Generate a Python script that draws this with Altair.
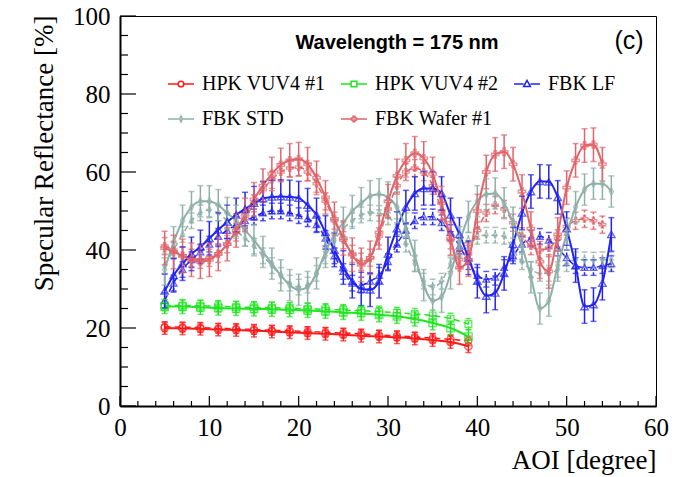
import altair as alt
import pandas as pd

SERIES = ["HPK VUV4 #1", "HPK VUV4 #2", "FBK LF", "FBK STD", "FBK Wafer #1"]
COLORS = ["#ff1a1a", "#1ee61e", "#2323f0", "#8fb0a8", "#e0646a"]

# ---- HPK samples (every 2 degrees) ----
hpk_x = [5, 7, 9, 11, 13, 15, 17, 19, 21, 23, 25, 27, 29, 31, 33, 35, 37, 39]
hpk1_a = [20.0, 19.9, 19.8, 19.6, 19.5, 19.3, 19.1, 18.9, 18.7, 18.5, 18.3, 18.0, 17.8, 17.6, 17.3, 16.9, 16.4, 15.3]
hpk1_b = [20.3, 20.2, 20.1, 19.9, 19.8, 19.6, 19.4, 19.3, 19.1, 18.9, 18.7, 18.5, 18.2, 18.0, 17.7, 17.4, 17.1, 16.7]
hpk2_a = [25.5, 25.5, 25.3, 25.1, 25.0, 24.9, 24.8, 24.7, 24.5, 24.3, 24.0, 23.8, 23.4, 23.0, 22.3, 21.3, 20.0, 17.8]
hpk2_b = [25.8, 25.8, 25.7, 25.6, 25.4, 25.3, 25.2, 25.1, 24.9, 24.8, 24.6, 24.4, 24.2, 23.9, 23.6, 23.2, 22.4, 21.0]

# ---- FBK samples (every degree) ----
fbk_x = [5, 6, 7, 8, 9, 10, 11, 12, 13, 14, 15, 16, 17, 18, 19, 20, 21, 22, 23, 24, 25,
         26, 27, 28, 29, 30, 31, 32, 33, 34, 35, 36, 37, 38, 39, 40, 41, 42, 43, 44, 45,
         46, 47, 48, 49, 50, 51, 52, 53, 54, 55]
lf_a = [29.5, 33.5, 36.5, 39.0, 40.8, 43.0, 45.2, 47.2, 49.0, 50.5, 52.0, 53.2, 53.6, 53.7, 53.6, 53.3,
        51.5, 49.0, 44.5, 40.0, 35.5, 32.0, 30.0, 29.8, 32.0, 39.0, 45.5, 51.0, 54.5, 55.8, 55.8,
        54.5, 49.0, 44.0, 38.0, 32.0, 28.2, 29.0, 34.0, 41.5, 49.5, 55.0, 57.6, 57.5, 53.5, 45.5,
        36.0, 25.5, 26.0, 31.5, 44.0]
lf_b = [27.0, 31.5, 35.0, 37.5, 39.5, 41.5, 43.5, 45.0, 46.5, 47.5, 48.5, 49.5, 50.0, 50.0, 49.5, 48.8,
        48.0, 46.5, 43.0, 38.5, 34.5, 31.5, 31.0, 32.0, 33.5, 37.0, 41.5, 45.0, 47.5, 48.5, 48.5,
        47.0, 44.5, 41.0, 37.0, 33.5, 32.5, 33.0, 35.5, 38.5, 41.5, 43.0, 43.5, 42.5, 40.5, 38.0,
        36.0, 35.5, 35.5, 36.0, 36.5]
std_a = [35.0, 42.0, 47.5, 51.0, 52.5, 52.5, 51.5, 49.5, 47.5, 45.0, 42.5, 39.5, 36.5, 33.5, 31.0, 29.8,
         30.5, 34.0, 39.5, 44.0, 47.0, 50.0, 52.0, 53.8, 54.3, 53.5, 51.0, 45.5, 38.5, 31.0, 27.0,
         28.0, 34.0, 42.0, 48.5, 52.5, 54.3, 54.5, 52.0, 47.0, 41.0, 33.0, 25.0, 27.0, 36.0, 44.0,
         51.0, 55.5, 57.0, 57.0, 55.0]
std_b = [36.0, 40.0, 44.0, 47.5, 49.5, 50.3, 49.5, 47.5, 45.0, 43.0, 41.0, 38.5, 36.0, 33.5, 31.5, 30.5,
         31.0, 34.0, 38.5, 42.5, 45.5, 47.5, 49.0, 49.5, 49.4, 48.5, 46.0, 41.5, 36.5, 32.0, 30.5,
         32.0, 36.5, 40.5, 42.5, 43.5, 43.8, 43.8, 43.5, 40.0, 37.0, 35.0, 34.0, 34.0, 35.0, 36.5,
         37.5, 37.5, 37.4, 37.5, 37.5]
wafer_x = [5, 6, 7, 8, 9, 10, 11, 12, 13, 14, 15, 16, 17, 18, 19, 20, 21, 22, 23, 24, 25,
           26, 27, 28, 29, 30, 31, 32, 33, 34, 35, 36, 37, 38, 39, 40, 41, 42, 43, 44, 45,
           46, 47, 48, 49, 50, 51, 52, 53, 54]
wafer_a = [40.5, 39.5, 38.5, 37.5, 37.0, 37.5, 39.0, 41.5, 45.0, 49.0, 53.0, 56.5, 59.5, 61.8, 63.0, 63.3,
           62.0, 58.5, 53.5, 48.0, 43.0, 38.8, 36.2, 38.0, 44.5, 52.5, 59.0, 63.0, 64.8, 63.5, 59.5,
           52.0, 43.0, 35.5, 37.5, 50.0, 60.0, 64.5, 65.2, 62.0, 55.0, 45.5, 37.0, 34.5, 44.0, 56.0,
           63.0, 66.8, 67.0, 62.0]
wafer_b = [41.0, 40.0, 38.5, 38.0, 37.5, 38.0, 39.0, 41.5, 44.5, 48.0, 52.0, 55.5, 58.0, 60.0, 61.0, 61.2,
           60.0, 57.0, 52.5, 47.5, 42.5, 39.0, 37.0, 38.0, 43.5, 50.5, 56.5, 60.0, 61.0, 60.0, 56.5,
           50.0, 42.5, 37.5, 39.0, 45.0, 49.5, 51.5, 50.5, 47.0, 43.5, 41.0, 40.0, 40.5, 43.0, 46.0,
           47.5, 48.0, 47.5, 46.5]

# half-widths of the error bars, per series (solid set A, dashed set B)
err_a = {"HPK VUV4 #1": 1.6, "HPK VUV4 #2": 1.8, "FBK LF": 4.3, "FBK STD": 4.0, "FBK Wafer #1": 4.3}
err_b = {"HPK VUV4 #1": 1.2, "HPK VUV4 #2": 1.4, "FBK LF": 2.0, "FBK STD": 2.0, "FBK Wafer #1": 2.2}

x_major = [0, 10, 20, 30, 40, 50, 60]
x_minor = [2, 4, 6, 8, 12, 14, 16, 18, 22, 24, 26, 28, 32, 34, 36, 38, 42, 44, 46, 48, 52, 54, 56, 58]
y_major = [0, 20, 40, 60, 80, 100]
y_minor = [5, 10, 15, 25, 30, 35, 45, 50, 55, 65, 70, 75, 85, 90, 95]

rows = []
def add(name, xs, ys, setname):
    assert len(xs) == len(ys), name
    e = err_a[name] if setname == "A" else err_b[name]
    for xv, yv in zip(xs, ys):
        rows.append({"series": name, "set": setname, "x": xv, "y": yv, "lo": yv - e, "hi": yv + e})

add("HPK VUV4 #1", hpk_x, hpk1_a, "A"); add("HPK VUV4 #1", hpk_x, hpk1_b, "B")
add("HPK VUV4 #2", hpk_x, hpk2_a, "A"); add("HPK VUV4 #2", hpk_x, hpk2_b, "B")
add("FBK LF", fbk_x, lf_a, "A"); add("FBK LF", fbk_x, lf_b, "B")
add("FBK STD", fbk_x, std_a, "A"); add("FBK STD", fbk_x, std_b, "B")
add("FBK Wafer #1", wafer_x, wafer_a, "A"); add("FBK Wafer #1", wafer_x, wafer_b, "B")
df = pd.DataFrame(rows)

SERIF = "Liberation Serif"
SANS = "Liberation Sans"
W, H = 536, 390

x_scale = alt.Scale(domain=[0, 60], nice=False, zero=False)
y_scale = alt.Scale(domain=[0, 100], nice=False, zero=False)

x_axis = alt.Axis(values=x_major, format="d", ticks=False, tickSize=0, grid=False,
                  domainColor="black", domainWidth=2, labelFont=SERIF, labelFontSize=25,
                  labelColor="black", labelPadding=9, labelAngle=0, labelFlush=False,
                  title="AOI [degree]", titleFont=SERIF, titleFontSize=27, titleFontWeight="normal",
                  titleColor="black", titleX=W, titleY=62, titleAlign="right",
                  titleBaseline="alphabetic")
y_axis = alt.Axis(values=y_major, format="d", ticks=False, tickSize=0, grid=False,
                  domainColor="black", domainWidth=2, labelFont=SERIF, labelFontSize=25,
                  labelColor="black", labelPadding=10, labelFlush=False,
                  title="Specular Reflectance [%]", titleFont=SERIF, titleFontSize=27,
                  titleFontWeight="normal", titleColor="black", titleX=-68, titleY=-1,
                  titleAngle=270, titleAlign="right", titleBaseline="alphabetic")

X = alt.X("x:Q", scale=x_scale, axis=x_axis)
Y = alt.Y("y:Q", scale=y_scale, axis=y_axis)
color = alt.Color("series:N", scale=alt.Scale(domain=SERIES, range=COLORS), legend=None)

POINT_SHAPES = ["circle", "square", "triangle-up",
                "M0,-1L0.55,0L0,1L-0.55,0Z",
                "M-0.33,-1H0.33V-0.33H1V0.33H0.33V1H-0.33V0.33H-1V-0.33H-0.33Z"]
LEG_SHAPES = [
    "M-1,0H-0.22M0.22,0H1M0.22,0A0.22,0.22,0,1,1,-0.22,0A0.22,0.22,0,1,1,0.22,0",
    "M-1,0H-0.22M0.22,0H1M-0.22,-0.22H0.22V0.22H-0.22Z",
    "M-1,0H-0.26M0.26,0H1M0,-0.28L0.26,0.2H-0.26Z",
    "M-1,0H-0.1M0.1,0H1M0,-0.22L0.1,0L0,0.22L-0.1,0Z",
    "M-1,0H-0.2M0.2,0H1M-0.07,-0.22H0.07V-0.07H0.2V0.07H0.07V0.22H-0.07V0.07H-0.2V-0.07H-0.07Z",
]

base = alt.Chart(df)
A = base.transform_filter("datum.set == 'A'")
B = base.transform_filter("datum.set == 'B'")

lines_b = B.mark_line(interpolate="monotone", strokeWidth=1.5, strokeDash=[6, 4]).encode(
    x=X, y=Y, color=color, detail="series:N")
lines_a = A.mark_line(interpolate="monotone", strokeWidth=2).encode(
    x=X, y=Y, color=color, detail="series:N")

def errs(src, dash):
    kw = {"strokeDash": dash} if dash else {}
    bars = src.mark_rule(strokeWidth=1.5, **kw).encode(
        x=X, y=alt.Y("lo:Q", scale=y_scale, axis=y_axis), y2="hi:Q", color=color)
    lo = src.mark_tick(orient="horizontal", size=6, thickness=1.5).encode(
        x=X, y=alt.Y("lo:Q", scale=y_scale, axis=y_axis), color=color)
    hi = src.mark_tick(orient="horizontal", size=6, thickness=1.5).encode(
        x=X, y=alt.Y("hi:Q", scale=y_scale, axis=y_axis), color=color)
    return [bars, lo, hi]

shape = alt.Shape("series:N", scale=alt.Scale(domain=SERIES, range=POINT_SHAPES), legend=None)
pts_b = B.mark_point(filled=False, size=45, strokeWidth=1.3).encode(x=X, y=Y, color=color, shape=shape)
pts_a = A.mark_point(filled=False, size=55, strokeWidth=1.4).encode(x=X, y=Y, color=color, shape=shape)

# inward axis ticks
xt_major = alt.Chart(pd.DataFrame({"x": x_major})).mark_rule(color="black", strokeWidth=1.2).encode(
    x=X, y=alt.value(H), y2=alt.value(H - 10))
xt_minor = alt.Chart(pd.DataFrame({"x": x_minor})).mark_rule(color="black", strokeWidth=1.2).encode(
    x=X, y=alt.value(H), y2=alt.value(H - 5))
yt_major = alt.Chart(pd.DataFrame({"y": y_major})).mark_rule(color="black", strokeWidth=1.2).encode(
    y=Y, x=alt.value(0), x2=alt.value(16))
yt_minor = alt.Chart(pd.DataFrame({"y": y_minor})).mark_rule(color="black", strokeWidth=1.2).encode(
    y=Y, x=alt.value(0), x2=alt.value(8))

# annotations
title_txt = alt.Chart(pd.DataFrame({"t": ["Wavelength = 175 nm"]})).mark_text(
    font=SANS, fontSize=20, fontWeight="bold", align="center", baseline="alphabetic", color="black"
).encode(x=alt.value(277), y=alt.value(33), text="t:N")
panel_txt = alt.Chart(pd.DataFrame({"t": ["(c)"]})).mark_text(
    font=SANS, fontSize=25, align="center", baseline="alphabetic", color="black"
).encode(x=alt.value(509), y=alt.value(33), text="t:N")

# legend carrier (no visible marks; the legend comes from the explicit scale domains)
def leg():
    return alt.Legend(orient="none", legendX=47, legendY=54, direction="horizontal", columns=3,
                      title=None, labelFont=SERIF, labelFontSize=20, labelColor="black",
                      symbolSize=676, symbolStrokeWidth=1.5, symbolOpacity=1, columnPadding=12,
                      rowPadding=11, labelOffset=7, padding=0, labelLimit=300)
legend_layer = alt.Chart(pd.DataFrame({"series": SERIES})).transform_filter(
    "datum.series == 'none'").mark_point(filled=False).encode(
    color=alt.Color("series:N", scale=alt.Scale(domain=SERIES, range=COLORS), legend=leg()),
    shape=alt.Shape("series:N", scale=alt.Scale(domain=SERIES, range=LEG_SHAPES), legend=leg()))

layers = [lines_b] + errs(B, [3, 2]) + [pts_b, lines_a] + errs(A, None) + [pts_a,
          xt_major, xt_minor, yt_major, yt_minor, title_txt, panel_txt, legend_layer]

chart = alt.layer(*layers).resolve_scale(color="independent", shape="independent").properties(
    width=W, height=H,
    autosize=alt.AutoSizeParams(type="none"),
    padding={"left": 120, "top": 16, "right": 38, "bottom": 71},
    background="white",
).configure_view(stroke="black", strokeWidth=1)

chart.save("out.html", embed_options={"renderer": "svg", "actions": False})
